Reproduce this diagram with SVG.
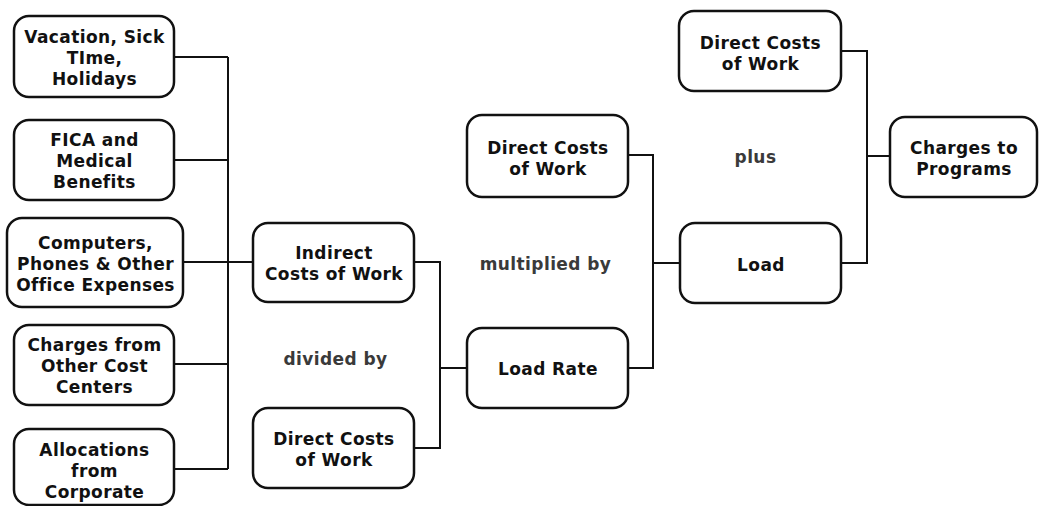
<svg xmlns="http://www.w3.org/2000/svg" width="1039" height="506" viewBox="0 0 1039 506">
<style>
.box{fill:#fff;stroke:#111;stroke-width:2.5}
.t{font-family:"DejaVu Sans",Verdana,sans-serif;font-weight:bold;font-size:17px;letter-spacing:0.4px;fill:#111;text-anchor:middle}
.op{font-family:"DejaVu Sans",Verdana,sans-serif;font-weight:bold;font-size:17px;letter-spacing:0.4px;fill:#3a3a3a;text-anchor:middle}
.c{fill:none;stroke:#111;stroke-width:2}
</style>
<rect width="1039" height="506" fill="#fff"/>
<g id="connectors">
<path class="c" d="M174,57H228M174,160H228M183,262H253M174,364H228M174,469H228M228,57V469"/>
<path class="c" d="M414,262H440V448H414M440,368H467"/>
<path class="c" d="M628,155H653V368H628M653,263H680"/>
<path class="c" d="M841,51H867V263H841M867,156H890"/>
</g>
<g id="vacation"><rect class="box" x="14" y="16" width="160" height="81" rx="15"/>
<text class="t" x="94.5" y="42.5">Vacation, Sick</text><text class="t" x="94.5" y="63.5">TIme,</text><text class="t" x="94.5" y="84.5">Holidays</text></g>
<g id="fica"><rect class="box" x="14" y="120" width="160" height="80" rx="15"/>
<text class="t" x="94.5" y="145.5">FICA and</text><text class="t" x="94.5" y="166.5">Medical</text><text class="t" x="94.5" y="187.5">Benefits</text></g>
<g id="computers"><rect class="box" x="7" y="218" width="176" height="89" rx="15"/>
<text class="t" x="95.5" y="249">Computers,</text><text class="t" x="95.5" y="270">Phones &amp; Other</text><text class="t" x="95.5" y="291">Office Expenses</text></g>
<g id="charges-other"><rect class="box" x="14" y="325" width="160" height="80" rx="15"/>
<text class="t" x="94.5" y="350.5">Charges from</text><text class="t" x="94.5" y="371.5">Other Cost</text><text class="t" x="94.5" y="392.5">Centers</text></g>
<g id="allocations"><rect class="box" x="14" y="429" width="160" height="76" rx="15"/>
<text class="t" x="94.5" y="456">Allocations</text><text class="t" x="94.5" y="477">from</text><text class="t" x="94.5" y="498">Corporate</text></g>
<g id="indirect"><rect class="box" x="253" y="223" width="161" height="79" rx="15"/>
<text class="t" x="334" y="258.5">Indirect</text><text class="t" x="334" y="279.5">Costs of Work</text></g>
<g id="direct-bottom"><rect class="box" x="253" y="408" width="161" height="80" rx="15"/>
<text class="t" x="334" y="444.5">Direct Costs</text><text class="t" x="334" y="465.5">of Work</text></g>
<g id="load-rate"><rect class="box" x="467" y="328" width="161" height="80" rx="15"/>
<text class="t" x="548" y="375">Load Rate</text></g>
<g id="direct-mid"><rect class="box" x="467" y="115" width="161" height="82" rx="15"/>
<text class="t" x="548" y="153.5">Direct Costs</text><text class="t" x="548" y="174.5">of Work</text></g>
<g id="load"><rect class="box" x="680" y="223" width="161" height="80" rx="15"/>
<text class="t" x="761" y="270.5">Load</text></g>
<g id="direct-top"><rect class="box" x="679" y="11" width="162" height="80" rx="15"/>
<text class="t" x="760.5" y="48.5">Direct Costs</text><text class="t" x="760.5" y="69.5">of Work</text></g>
<g id="charges-programs"><rect class="box" x="890" y="117" width="147" height="80" rx="15"/>
<text class="t" x="964" y="153.5">Charges to</text><text class="t" x="964" y="174.5">Programs</text></g>
<text class="op" x="335.5" y="364.5">divided by</text>
<text class="op" x="545.5" y="269.5">multiplied by</text>
<text class="op" x="755.5" y="162.5">plus</text>
</svg>
